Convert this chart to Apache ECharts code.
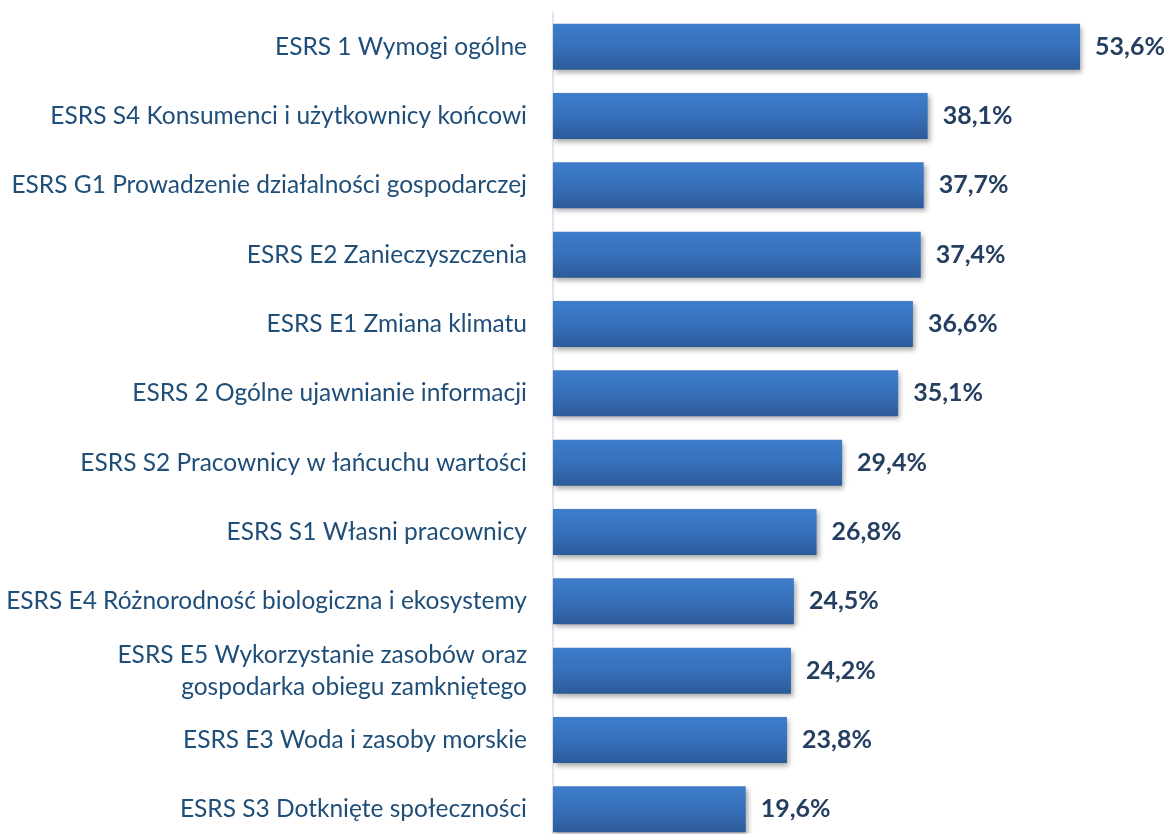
<!DOCTYPE html>
<html>
<head>
<meta charset="utf-8">
<script src="https://cdn.jsdelivr.net/npm/echarts@6.0.0/dist/echarts.min.js"></script>
<style>
	html, body { margin: 0; padding: 0; background: #fff; }
	#chart { width: 1168px; height: 834px; }
</style>
</head>
<body>
<div id="chart"></div>
<script>
// kategorie (od góry do dołu)
const categories = [
	'ESRS 1 Wymogi ogólne',
	'ESRS S4 Konsumenci i użytkownicy końcowi',
	'ESRS G1 Prowadzenie działalności gospodarczej',
	'ESRS E2 Zanieczyszczenia',
	'ESRS E1 Zmiana klimatu',
	'ESRS 2 Ogólne ujawnianie informacji',
	'ESRS S2 Pracownicy w łańcuchu wartości',
	'ESRS S1 Własni pracownicy',
	'ESRS E4 Różnorodność biologiczna i ekosystemy',
	'ESRS E5 Wykorzystanie zasobów oraz\ngospodarka obiegu zamkniętego',
	'ESRS E3 Woda i zasoby morskie',
	'ESRS S3 Dotknięte społeczności'
];
// udział w %
const values = [53.6, 38.1, 37.7, 37.4, 36.6, 35.1, 29.4, 26.8, 24.5, 24.2, 23.8, 19.6];

const chart = echarts.init(document.getElementById('chart'));

chart.setOption({
	animation: false,
	// dolny rząd jest przycięty na krawędzi obrazka, stąd wysokość większa niż płótno
	grid: { left: 553, right: 25, top: 12, height: 832, outerBoundsMode: 'none', containLabel: false },
	xAxis: {
		type: 'value',
		min: 0,
		max: 60,
		show: false
	},
	yAxis: {
		type: 'category',
		data: categories,
		inverse: true,
		axisLine: { show: true, lineStyle: { color: '#D6DEEA', width: 1.5 } },
		axisTick: { show: false },
		axisLabel: {
			margin: 26,
			color: '#1F4E79',
			fontFamily: 'Lato',
			fontSize: 24.5,
			lineHeight: 32,
			align: 'right'
		}
	},
	series: [{
		type: 'bar',
		data: values,
		barWidth: 46,
		itemStyle: {
			color: new echarts.graphic.LinearGradient(0, 0, 0, 1, [
				{ offset: 0, color: '#3E7DCB' },
				{ offset: 0.5, color: '#3670BA' },
				{ offset: 1, color: '#2D5B9A' }
			]),
			shadowColor: 'rgba(0,0,0,0.35)',
			shadowBlur: 5,
			shadowOffsetX: 2,
			shadowOffsetY: 3
		},
		label: {
			show: true,
			position: 'right',
			distance: 15,
			color: '#243F60',
			fontFamily: 'Lato',
			fontWeight: 'bold',
			fontSize: 25,
			formatter: p => p.value.toFixed(1).replace('.', ',') + '%'
		}
	}]
});
</script>
</body>
</html>
